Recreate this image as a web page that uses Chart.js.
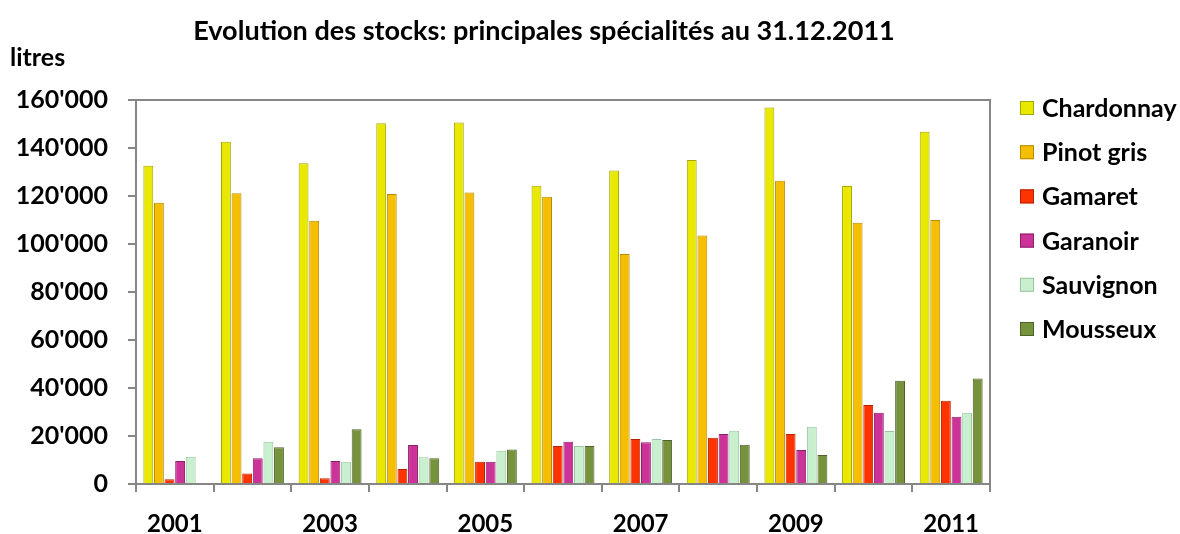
<!DOCTYPE html>
<html><head><meta charset="utf-8">
<script src="https://cdn.jsdelivr.net/npm/chart.js@4/dist/chart.umd.min.js"></script>
<style>html,body{margin:0;padding:0;background:#fff}</style>
</head><body>
<canvas id="c" width="1180" height="534"></canvas>
<script>
const titleText = 'Evolution des stocks: principales spécialités au 31.12.2011';
const unitLabel = 'litres';
const years = ['2001','2002','2003','2004','2005','2006','2007','2008','2009','2010','2011'];
const seriesNames = ['Chardonnay','Pinot gris','Gamaret','Garanoir','Sauvignon','Mousseux'];
const chardonnay = [132600,142600,133600,150300,150600,124300,130600,135000,156900,124200,146800];
const pinotGris  = [117200,121100,109700,120800,121500,119700,95800,103500,126400,108900,110000];
const gamaret    = [2000,4400,2400,6300,9300,15800,18800,19300,20800,32900,34700];
const garanoir   = [9600,10700,9600,16300,9300,17600,17400,20800,14200,29700,28000];
const sauvignon  = [11400,17600,9300,11100,13900,15800,18800,22200,23900,22100,29700];
const mousseux   = [0,15300,22800,10700,14400,15800,18300,16400,12100,43000,44000];
const yTicks = [0,20000,40000,60000,80000,100000,120000,140000,160000];

const fills   = ['#E8E800','#F5BE00','#FF3300','#CC3399','#C8F0CE','#76923C'];
const borders = ['#A6A600','#B88A00','#B82200','#8A1F66','#9CC4A0','#4F6228'];
const seriesData = [chardonnay,pinotGris,gamaret,garanoir,sauvignon,mousseux];

const FONT = 'Lato';
const AXIS = '#868686';
function fmt(v){ return String(v).replace(/\B(?=(\d{3})+(?!\d))/g, "'"); }

const decor = {
  id:'decor',
  afterDraw(chart){
    const ctx = chart.ctx, a = chart.chartArea;
    ctx.save();
    ctx.strokeStyle = AXIS; ctx.lineWidth = 2;
    ctx.beginPath();
    ctx.moveTo(a.left, a.top); ctx.lineTo(a.right, a.top); ctx.lineTo(a.right, a.bottom);
    ctx.stroke();
    ctx.fillStyle = '#000';
    ctx.textBaseline = 'middle';
    // title sized to span the same width as the original
    let ts = 24;
    ctx.font = 'bold ' + ts + 'px ' + FONT;
    ts = ts * 702 / ctx.measureText(titleText).width;
    ctx.font = 'bold ' + ts.toFixed(2) + 'px ' + FONT;
    ctx.textAlign = 'center';
    ctx.fillText(titleText, 544, 31);
    ctx.textAlign = 'left';
    ctx.font = 'bold 25px ' + FONT;
    ctx.fillText(unitLabel, 10, 58);
    ctx.font = 'bold 25px ' + FONT;
    chart.data.datasets.forEach((ds, i) => {
      const y = 108 + i * 44.2;
      ctx.fillStyle = ds.backgroundColor;
      ctx.fillRect(1020, y - 7, 14, 14);
      ctx.strokeStyle = ds.borderColor; ctx.lineWidth = 1;
      ctx.strokeRect(1020.5, y - 6.5, 13, 13);
      ctx.fillStyle = '#000';
      ctx.fillText(ds.label, 1042, y + 1);
    });
    ctx.restore();
  }
};

new Chart(document.getElementById('c'), {
  type: 'bar',
  data: {
    labels: years,
    datasets: seriesNames.map((n, i) => ({
      label: n, data: seriesData[i],
      backgroundColor: fills[i], borderColor: borders[i], borderWidth: 1,
      categoryPercentage: 0.82, barPercentage: 0.93
    }))
  },
  options: {
    responsive: false, animation: false,
    layout: { padding: { top: 100, right: 190, left: 0, bottom: 0 } },
    plugins: { legend: { display: false }, tooltip: { enabled: false } },
    scales: {
      x: {
        grid: { offset: true, drawOnChartArea: false, tickLength: 8, color: AXIS, lineWidth: 2 },
        border: { color: AXIS, width: 2 },
        ticks: { autoSkip: false, maxRotation: 0, color: '#000', padding: 18,
          font: { family: FONT, weight: 'bold', size: 24 },
          callback: (v, i) => (i % 2 === 0 ? years[i] : '') },
        afterFit: s => { s.height = 50; }
      },
      y: {
        min: 0, max: 160000,
        afterBuildTicks: s => { s.ticks = yTicks.map(v => ({ value: v })); },
        grid: { drawOnChartArea: false, tickLength: 8, color: AXIS, lineWidth: 2 },
        border: { color: AXIS, width: 2 },
        ticks: { color: '#000', padding: 20, font: { family: FONT, weight: 'bold', size: 25 },
          callback: v => fmt(v) },
        afterFit: s => { s.width = 136; }
      }
    }
  },
  plugins: [decor]
});
</script>
</body></html>
